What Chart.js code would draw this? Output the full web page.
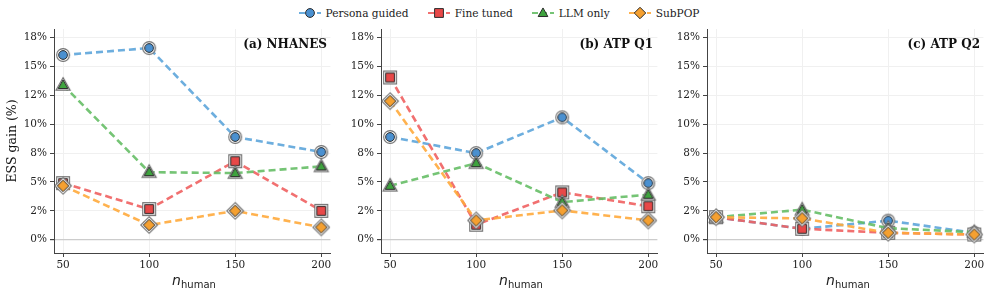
<!DOCTYPE html>
<html lang="en">
<head>
    <meta charset="UTF-8">
    <title>ESS gain vs n_human</title>
    <script src="https://cdn.jsdelivr.net/npm/chart.js"></script>
    <style>
        body {
            margin: 0;
            padding: 0;
            background: #fff;
            font-family: "DejaVu Serif", serif;
        }
        .figure {
            position: relative;
            width: 997px;
            height: 296px;
            overflow: hidden;
        }
        .panel {
            position: absolute;
            top: 0;
            height: 290px;
        }
        .legend {
            position: absolute;
            top: 5px;
            left: 0;
            width: 997px;
            display: flex;
            justify-content: center;
            gap: 18px;
            font-size: 10.6px;
            color: #222;
        }
        .legend span.item {
            display: flex;
            align-items: center;
            gap: 4px;
        }
        .ytitle {
            position: absolute;
            left: 4px;
            top: 141px;
            width: 16px;
            height: 16px;
            font-size: 12.5px;
            font-weight: normal;
            color: #111;
        }
        .ytitle span {
            position: absolute;
            left: 0;
            top: 0;
            white-space: nowrap;
            transform-origin: 0 0;
            transform: rotate(-90deg) translate(-50%, 0);
        }
        .ptitle {
            position: absolute;
            top: 37px;
            font-weight: bold;
            font-size: 12px;
            color: #111;
            transform: translateX(-100%);
            white-space: nowrap;
        }
        .xtitle {
            position: absolute;
            top: 272px;
            transform: translateX(-50%);
            font-family: "DejaVu Sans", sans-serif;
            font-size: 14px;
            color: #222;
            white-space: nowrap;
        }
        .xtitle sub {
            font-size: 10px;
            vertical-align: -3px;
        }
    </style>
</head>
<body>
<div class="figure">
    <div class="legend" id="legend"></div>
    <canvas id="c1" class="panel" style="left:0px" width="339" height="290"></canvas>
    <canvas id="c2" class="panel" style="left:330px" width="336" height="290"></canvas>
    <canvas id="c3" class="panel" style="left:660px" width="332" height="290"></canvas>
    <div class="ytitle"><span>ESS gain (%)</span></div>
    <div class="ptitle" style="left:327px">(a) NHANES</div>
    <div class="ptitle" style="left:653px">(b) ATP Q1</div>
    <div class="ptitle" style="left:980px">(c) ATP Q2</div>
    <div class="xtitle" style="left:194px"><i>n</i><sub>human</sub></div>
    <div class="xtitle" style="left:521px"><i>n</i><sub>human</sub></div>
    <div class="xtitle" style="left:848px"><i>n</i><sub>human</sub></div>
</div>

<script>
    // x categories and y ticks
    const nHuman = [50, 100, 150, 200];
    const yTickValues = [0, 2.5, 5, 7.5, 10, 12.5, 15, 17.5];
    const yTickLabels = ['0%', '2%', '5%', '8%', '10%', '12%', '15%', '18%'];
    const seriesNames = ['Persona guided', 'Fine tuned', 'LLM only', 'SubPOP'];

    // (a) NHANES
    const nhanesPersona = [16.0, 16.6, 8.9, 7.6];
    const nhanesFineTuned = [4.9, 2.65, 6.8, 2.5];
    const nhanesLlmOnly = [13.4, 5.85, 5.77, 6.35];
    const nhanesSubpop = [4.67, 1.27, 2.5, 1.07];

    // (b) ATP Q1
    const q1Persona = [8.9, 7.5, 10.6, 4.9];
    const q1FineTuned = [14.05, 1.3, 4.1, 2.9];
    const q1LlmOnly = [4.67, 6.63, 3.26, 3.9];
    const q1Subpop = [12.0, 1.67, 2.54, 1.67];

    // (c) ATP Q2
    const q2Persona = [1.95, 0.95, 1.65, 0.6];
    const q2FineTuned = [1.95, 0.95, 0.6, 0.45];
    const q2LlmOnly = [1.95, 2.6, 1.0, 0.65];
    const q2Subpop = [1.95, 1.85, 0.6, 0.45];

    const lineColors = ['rgba(93,165,218,0.9)', 'rgba(240,96,96,0.9)', 'rgba(102,190,102,0.9)', 'rgba(255,170,60,0.9)'];
    const fillColors = ['#4a90d0', '#e84848', '#3ea33e', '#f5a030'];
    const shapes = ['circle', 'square', 'triangle', 'diamond'];

    function shapePath(ctx, shape, cx, cy, s) {
        ctx.beginPath();
        if (shape === 'circle') {
            ctx.arc(cx, cy, s, 0, Math.PI * 2);
        } else if (shape === 'square') {
            ctx.rect(cx - s, cy - s, 2 * s, 2 * s);
        } else if (shape === 'triangle') {
            ctx.moveTo(cx, cy - s * 1.15);
            ctx.lineTo(cx + s * 1.1, cy + s * 0.8);
            ctx.lineTo(cx - s * 1.1, cy + s * 0.8);
            ctx.closePath();
        } else {
            ctx.moveTo(cx, cy - s * 1.3);
            ctx.lineTo(cx + s * 1.3, cy);
            ctx.lineTo(cx, cy + s * 1.3);
            ctx.lineTo(cx - s * 1.3, cy);
            ctx.closePath();
        }
    }

    // marker with a grey halo, drawn once and used as the point style
    function makeMarker(i, halo) {
        const c = document.createElement('canvas');
        c.width = 22;
        c.height = 22;
        const ctx = c.getContext('2d');
        if (halo) {
            shapePath(ctx, shapes[i], 11, 11, 6.4);
            ctx.fillStyle = '#fff';
            ctx.fill();
            ctx.lineWidth = 1.1;
            ctx.strokeStyle = '#6e6e6e';
            ctx.stroke();
        }
        shapePath(ctx, shapes[i], 11, 11, 4.4);
        ctx.fillStyle = fillColors[i];
        ctx.fill();
        ctx.lineWidth = 1;
        ctx.strokeStyle = '#2a2a2a';
        ctx.stroke();
        return c;
    }

    const markers = [0, 1, 2, 3].map(i => makeMarker(i, true));

    function makeDatasets(values) {
        return values.map((vals, i) => ({
            label: seriesNames[i],
            data: nHuman.map((x, j) => ({ x: x, y: vals[j] })),
            borderColor: lineColors[i],
            borderWidth: 2.6,
            borderDash: [7, 4],
            pointStyle: markers[i],
            pointRadius: 6,
            fill: false,
            tension: 0,
            order: 4 - i // later series on top
        }));
    }

    function makeChart(id, yWidth, values) {
        const ctx = document.getElementById(id).getContext('2d');
        return new Chart(ctx, {
            type: 'line',
            data: { datasets: makeDatasets(values) },
            options: {
                responsive: false,
                animation: false,
                layout: { padding: { top: 29, right: 4, bottom: 7, left: 0 } },
                plugins: { legend: { display: false }, tooltip: { enabled: false } },
                scales: {
                    x: {
                        type: 'linear',
                        min: 44.7,
                        max: 205.3,
                        afterBuildTicks: s => { s.ticks = nHuman.map(v => ({ value: v })); },
                        afterFit: s => { s.height = 30; },
                        grid: { color: '#f0f0f0', tickColor: '#444', tickLength: 4 },
                        border: { display: true, color: '#444', width: 1 },
                        ticks: {
                            font: { family: 'DejaVu Serif', size: 10.5 },
                            color: '#222',
                            padding: 2,
                            maxRotation: 0
                        }
                    },
                    y: {
                        min: -1.15,
                        max: 18.25,
                        afterBuildTicks: s => { s.ticks = yTickValues.map(v => ({ value: v })); },
                        afterFit: s => { s.width = yWidth; },
                        grid: {
                            color: c => (c.tick && c.tick.value === 0 ? '#cccccc' : '#f0f0f0'),
                            lineWidth: c => (c.tick && c.tick.value === 0 ? 1.2 : 1),
                            tickColor: '#444',
                            tickLength: 4
                        },
                        border: { display: true, color: '#444', width: 1 },
                        ticks: {
                            font: { family: 'DejaVu Serif', size: 10.5 },
                            color: '#222',
                            padding: 3,
                            callback: v => {
                                const k = yTickValues.indexOf(v);
                                return k >= 0 ? yTickLabels[k] : '';
                            }
                        }
                    }
                }
            }
        });
    }

    makeChart('c1', 54, [nhanesPersona, nhanesFineTuned, nhanesLlmOnly, nhanesSubpop]);
    makeChart('c2', 51, [q1Persona, q1FineTuned, q1LlmOnly, q1Subpop]);
    makeChart('c3', 47, [q2Persona, q2FineTuned, q2LlmOnly, q2Subpop]);

    // legend built as html with small drawn icons
    const legend = document.getElementById('legend');
    seriesNames.forEach((name, i) => {
        const item = document.createElement('span');
        item.className = 'item';
        const icon = document.createElement('canvas');
        icon.width = 24;
        icon.height = 16;
        const ictx = icon.getContext('2d');
        ictx.strokeStyle = lineColors[i];
        ictx.lineWidth = 2;
        ictx.setLineDash([6, 3]);
        ictx.beginPath();
        ictx.moveTo(1, 8);
        ictx.lineTo(23, 8);
        ictx.stroke();
        ictx.setLineDash([]);
        const m = makeMarker(i, false);
        ictx.drawImage(m, 12 - 11, 8 - 11);
        item.appendChild(icon);
        const label = document.createElement('span');
        label.textContent = name;
        item.appendChild(label);
        legend.appendChild(item);
    });
</script>
</body>
</html>
